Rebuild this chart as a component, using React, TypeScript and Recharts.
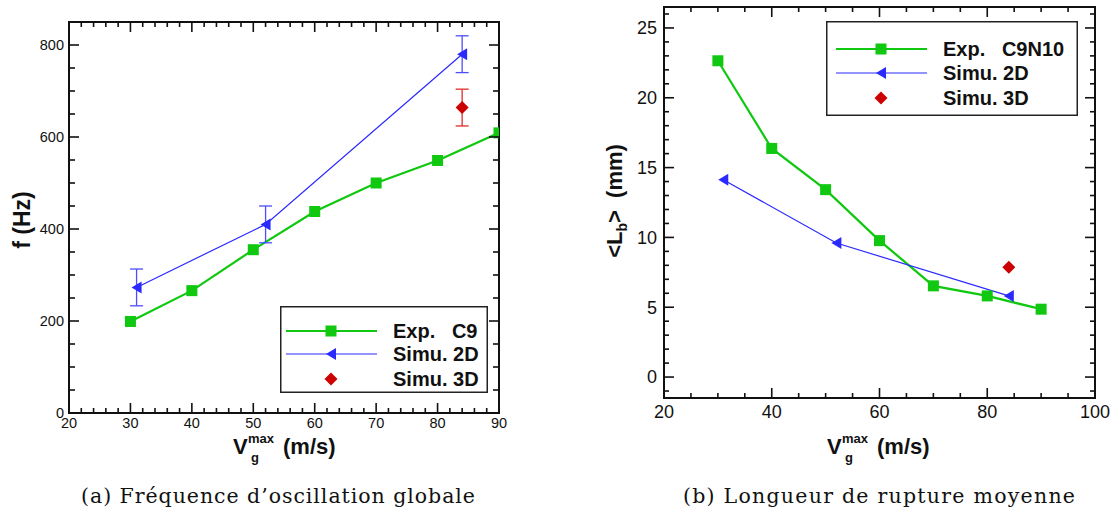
import React from 'react';
import { ComposedChart, Line, Scatter, XAxis, YAxis, ErrorBar, ReferenceArea, Legend } from 'recharts';

// (a) global oscillation frequency
const freqExpV = [30, 40, 50, 60, 70, 80, 90];
const freqExp = [199, 266, 355, 438, 500, 549, 609];
const freq2dV = [31, 52, 84];
const freq2d = [273, 410, 780];
const freq2dErr = [40, 40, 40];
const freq3dV = [84];
const freq3d = [664];
const freq3dErr = [40];

// (b) mean breakup length
const lbExpV = [30, 40, 50, 60, 70, 80, 90];
const lbExp = [22.65, 16.37, 13.42, 9.77, 6.53, 5.81, 4.86];
const lb2dV = [31, 52, 84];
const lb2d = [14.13, 9.6, 5.81];
const lb3dV = [84];
const lb3d = [7.86];

// tick labels
const freqXMajor = [20, 30, 40, 50, 60, 70, 80, 90];
const freqYMajor = [0, 200, 400, 600, 800];
const lbXMajor = [20, 40, 60, 80, 100];
const lbYMajor = [0, 5, 10, 15, 20, 25];

const steps = (a: number, b: number, s: number) => {
  const out: number[] = [];
  for (let v = a; v <= b + 1e-9; v += s) out.push(Math.round(v * 100) / 100);
  return out;
};

const GREEN = '#0fc80f';
const BLUE = '#2a2aff';
const RED = '#cc0000';
const SANS = '"Liberation Sans", Arial, Helvetica, sans-serif';
const SERIF = '"DejaVu Serif", "Liberation Serif", serif';
const TICK = '#111';

const pts = (xs: number[], ys: number[], errs?: number[]) =>
  xs.map((x, i) => ({ x, y: ys[i], err: errs ? errs[i] : 0 }));

const Square = (p: any) => (
  <rect key={`sq-${p.index}`} x={p.cx - 5.5} y={p.cy - 5.5} width={11} height={11} fill={GREEN} />
);
const Tri = (p: any) => (
  <path
    key={`tr-${p.index}`}
    d={`M${p.cx - 5},${p.cy} L${p.cx + 5},${p.cy - 6} L${p.cx + 5},${p.cy + 6} Z`}
    fill={BLUE}
  />
);
const Diamond = (p: any) => (
  <path
    d={`M${p.cx},${p.cy - 6.5} L${p.cx + 6.5},${p.cy} L${p.cx},${p.cy + 6.5} L${p.cx - 6.5},${p.cy} Z`}
    fill={RED}
  />
);

type TickCfg = { majors: number[]; far: number; big: number; small: number; font: number; gap: number };

// inward ticks on the axis side and mirrored on the opposite side of the frame
const bottomTick = (c: TickCfg) => (p: any) => {
  const v = p.payload.value;
  const major = c.majors.includes(v);
  const len = major ? c.big : c.small;
  return (
    <g>
      <line x1={p.x} y1={p.y} x2={p.x} y2={p.y - len} stroke={TICK} strokeWidth={1.6} />
      <line x1={p.x} y1={c.far} x2={p.x} y2={c.far + len} stroke={TICK} strokeWidth={1.6} />
      {major && (
        <text x={p.x} y={p.y + c.gap + c.font * 0.716} textAnchor="middle" fontSize={c.font} fontFamily={SANS} fill="#111">
          {v}
        </text>
      )}
    </g>
  );
};

const leftTick = (c: TickCfg) => (p: any) => {
  const v = p.payload.value;
  const major = c.majors.includes(v);
  const len = major ? c.big : c.small;
  return (
    <g>
      <line x1={p.x} y1={p.y} x2={p.x + len} y2={p.y} stroke={TICK} strokeWidth={1.6} />
      <line x1={c.far} y1={p.y} x2={c.far - len} y2={p.y} stroke={TICK} strokeWidth={1.6} />
      {major && (
        <text x={p.x - c.gap} y={p.y + c.font * 0.358} textAnchor="end" fontSize={c.font} fontFamily={SANS} fill="#111">
          {v}
        </text>
      )}
    </g>
  );
};

function LegendBox({ w, h, rows, lineX1, lineX2, markX, textX, labels }: any) {
  const ys = rows;
  return (
    <svg width={w} height={h} style={{ display: 'block' }}>
      <rect x={0.75} y={0.75} width={w - 1.5} height={h - 1.5} fill="#fff" stroke="#222" strokeWidth={1.5} />
      <line x1={lineX1} x2={lineX2} y1={ys[0]} y2={ys[0]} stroke={GREEN} strokeWidth={2.2} />
      <rect x={markX - 5.5} y={ys[0] - 5.5} width={11} height={11} fill={GREEN} />
      <line x1={lineX1} x2={lineX2} y1={ys[1]} y2={ys[1]} stroke={BLUE} strokeWidth={1.2} />
      <path d={`M${markX - 5},${ys[1]} L${markX + 5},${ys[1] - 6} L${markX + 5},${ys[1] + 6} Z`} fill={BLUE} />
      <path d={`M${markX},${ys[2] - 6.5} L${markX + 6.5},${ys[2]} L${markX},${ys[2] + 6.5} L${markX - 6.5},${ys[2]} Z`} fill={RED} />
      {labels.map((t: string, i: number) => (
        <text key={t} x={textX} y={ys[i] + 7.2} fontSize={20} fontWeight="bold" fontFamily={SANS} fill="#111" style={{ whiteSpace: 'pre' }}>
          {t}
        </text>
      ))}
    </svg>
  );
}

function FreqChart() {
  const top = 22;
  const right = 499;
  return (
    <ComposedChart width={540} height={440} margin={{ top, left: 29, right: 540 - right, bottom: 7 }}>
      <XAxis
        type="number"
        dataKey="x"
        domain={[20, 90]}
        allowDataOverflow
        ticks={steps(20, 90, 2)}
        interval={0}
        height={20}
        tickLine={false}
        axisLine={false}
        tickSize={0}
        tickMargin={0}
        tick={bottomTick({ majors: freqXMajor, far: top, big: 10, small: 5, font: 14.5, gap: 5 })}
      />
      <YAxis
        type="number"
        domain={[0, 850]}
        allowDataOverflow
        ticks={steps(0, 800, 50)}
        interval={0}
        width={40}
        tickLine={false}
        axisLine={false}
        tickSize={0}
        tickMargin={0}
        tick={leftTick({ majors: freqYMajor, far: right, big: 10, small: 6, font: 14.5, gap: 5 })}
      />
      <ReferenceArea x1={20} x2={90} y1={0} y2={850} fill="none" stroke={TICK} strokeWidth={2} ifOverflow="visible" />
      <Line data={pts(freqExpV, freqExp)} dataKey="y" stroke={GREEN} strokeWidth={2.2} dot={Square} activeDot={false} isAnimationActive={false} />
      <Line data={pts(freq2dV, freq2d, freq2dErr)} dataKey="y" stroke={BLUE} strokeWidth={1.2} dot={Tri} activeDot={false} isAnimationActive={false}>
        <ErrorBar dataKey="err" direction="y" width={6.5} stroke="#4d4dff" strokeWidth={1.3} />
      </Line>
      <Scatter data={pts(freq3dV, freq3d, freq3dErr)} dataKey="y" shape={Diamond} isAnimationActive={false}>
        <ErrorBar dataKey="err" direction="y" width={6.5} stroke="#e02a2a" strokeWidth={1.3} />
      </Scatter>
      <Legend
        layout="horizontal"
        verticalAlign="middle"
        align="center"
        wrapperStyle={{ left: 280, top: 306, width: 208, height: 87 }}
        content={() => (
          <LegendBox
            w={208}
            h={87}
            rows={[25, 48, 73]}
            lineX1={6}
            lineX2={97}
            markX={51}
            textX={113}
            labels={['Exp.   C9', 'Simu. 2D', 'Simu. 3D']}
          />
        )}
      />
    </ComposedChart>
  );
}

function LbChart() {
  const top = 7;
  const right = 535;
  return (
    <ComposedChart width={553} height={440} margin={{ top, left: 64, right: 553 - right, bottom: 22 }}>
      <XAxis
        type="number"
        dataKey="x"
        domain={[20, 100]}
        allowDataOverflow
        ticks={steps(20, 100, 5)}
        interval={0}
        height={20}
        tickLine={false}
        axisLine={false}
        tickSize={0}
        tickMargin={0}
        tick={bottomTick({ majors: lbXMajor, far: top, big: 10, small: 5, font: 18, gap: 7 })}
      />
      <YAxis
        type="number"
        domain={[-1.5, 26.5]}
        allowDataOverflow
        ticks={steps(-1, 26, 1)}
        interval={0}
        width={40}
        tickLine={false}
        axisLine={false}
        tickSize={0}
        tickMargin={0}
        tick={leftTick({ majors: lbYMajor, far: right, big: 10, small: 5, font: 18, gap: 7 })}
      />
      <ReferenceArea x1={20} x2={100} y1={-1.5} y2={26.5} fill="none" stroke={TICK} strokeWidth={2} ifOverflow="visible" />
      <Line data={pts(lbExpV, lbExp)} dataKey="y" stroke={GREEN} strokeWidth={2.2} dot={Square} activeDot={false} isAnimationActive={false} />
      <Line data={pts(lb2dV, lb2d)} dataKey="y" stroke={BLUE} strokeWidth={1.2} dot={Tri} activeDot={false} isAnimationActive={false} />
      <Scatter data={pts(lb3dV, lb3d)} dataKey="y" shape={Diamond} isAnimationActive={false} />
      <Legend
        layout="horizontal"
        verticalAlign="middle"
        align="center"
        wrapperStyle={{ left: 266, top: 21, width: 252, height: 95 }}
        content={() => (
          <LegendBox
            w={252}
            h={95}
            rows={[28, 52, 77]}
            lineX1={10}
            lineX2={101}
            markX={55}
            textX={117}
            labels={['Exp.   C9N10', 'Simu. 2D', 'Simu. 3D']}
          />
        )}
      />
    </ComposedChart>
  );
}

function VTitle({ x }: { x: number }) {
  return (
    <g fontFamily={SANS} fontWeight="bold" fill="#111">
      <text x={x} y={454} fontSize={22}>V</text>
      <text x={x + 15} y={443} fontSize={13}>max</text>
      <text x={x + 18} y={462} fontSize={13}>g</text>
      <text x={x + 50} y={454} fontSize={22}>(m/s)</text>
    </g>
  );
}

export default function App() {
  return (
    <div style={{ position: 'absolute', left: 0, top: 0, width: 1113, height: 519, background: '#fff', overflow: 'hidden' }}>
      <div style={{ position: 'absolute', left: 0, top: 0 }}>
        <FreqChart />
      </div>
      <div style={{ position: 'absolute', left: 560, top: 0 }}>
        <LbChart />
      </div>
      <svg width={1113} height={519} style={{ position: 'absolute', left: 0, top: 0, pointerEvents: 'none' }}>
        <text
          x={22}
          y={228}
          transform="rotate(-90, 22, 220)"
          textAnchor="middle"
          fontFamily={SANS}
          fontWeight="bold"
          fontSize={23}
          fill="#111"
        >
          f (Hz)
        </text>
        <text
          x={614}
          y={209}
          transform="rotate(-90, 614, 201)"
          textAnchor="middle"
          fontFamily={SANS}
          fontWeight="bold"
          fontSize={22}
          fill="#111"
          style={{ whiteSpace: 'pre' }}
        >
          {'<L'}
          <tspan fontSize={14} dy={5}>b</tspan>
          <tspan dy={-5}>{'>  (mm)'}</tspan>
        </text>
        <VTitle x={233} />
        <VTitle x={827} />
        <text x={278} y={503} textAnchor="middle" fontFamily={SERIF} fontSize={20.5} fill="#111" textLength={394} lengthAdjust="spacing">
          (a) Fréquence d’oscillation globale
        </text>
        <text x={879} y={503} textAnchor="middle" fontFamily={SERIF} fontSize={20.5} fill="#111" textLength={392} lengthAdjust="spacing">
          (b) Longueur de rupture moyenne
        </text>
      </svg>
    </div>
  );
}
